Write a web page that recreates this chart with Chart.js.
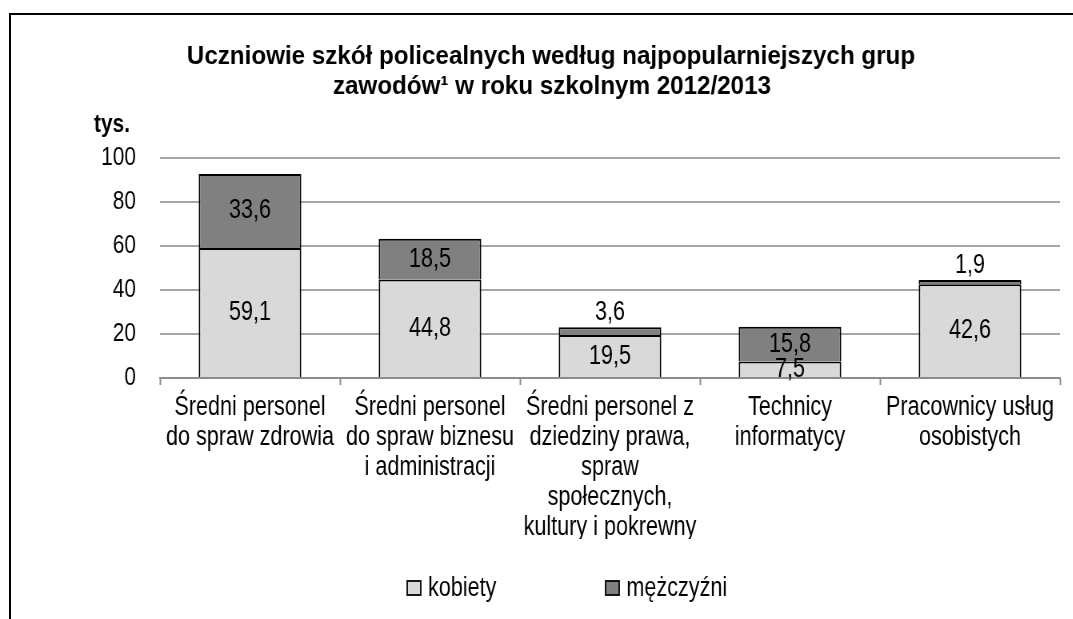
<!DOCTYPE html>
<html>
<head>
<meta charset="utf-8">
<script src="https://cdn.jsdelivr.net/npm/chart.js@4.4.1/dist/chart.umd.min.js"></script>
<style>
  html, body { margin: 0; padding: 0; background: #fff; overflow: hidden; }
  #frame { position: absolute; left: 9px; top: 13px; right: -5px; bottom: -5px; border-left: 2px solid #000; border-top: 2px solid #000; }
  #wrap { position: absolute; left: 0; top: 0; width: 1341px; height: 619px; transform: scaleX(0.8); transform-origin: 0 0; }
</style>
</head>
<body>
<div id="frame"></div>
<div id="wrap"><canvas id="chart" width="1341" height="619"></canvas></div>
<script>
// data
const categories = [
  ['Średni personel', 'do spraw zdrowia'],
  ['Średni personel', 'do spraw biznesu', 'i administracji'],
  ['Średni personel z', 'dziedziny prawa,', 'spraw', 'społecznych,', 'kultury i pokrewny'],
  ['Technicy', 'informatycy'],
  ['Pracownicy usług', 'osobistych'],
];
const kobiety = [59.1, 44.8, 19.5, 7.5, 42.6];
const mezczyzni = [33.6, 18.5, 3.6, 15.8, 1.9];
const seriesNames = ['kobiety', 'mężczyźni'];
const yTicks = [0, 20, 40, 60, 80, 100];
const titleLines = ['Uczniowie szkół policealnych według najpopularniejszych grup', 'zawodów¹ w roku szkolnym 2012/2013'];
const unitLabel = 'tys.';

const FONT = '"Liberation Sans", Arial, sans-serif';
const SQUEEZE = 0.8; // regular text in the picture is a narrow face
const TITLE_SQUEEZE = 0.93;
const colors = ['#d9d9d9', '#808080'];

const fmt = (v) => v.toFixed(1).replace('.', ',');

// value labels on the stacked segments
const valueLabels = {
  id: 'valueLabels',
  afterDatasetsDraw(chart) {
    const { ctx } = chart;
    ctx.save();
    ctx.font = `27px ${FONT}`;
    ctx.fillStyle = '#000';
    ctx.textAlign = 'center';
    ctx.textBaseline = 'middle';
    chart.data.datasets.forEach((ds, di) => {
      chart.getDatasetMeta(di).data.forEach((bar, i) => {
        const { x, y, base } = bar.getProps(['x', 'y', 'base'], true);
        let ty = (y + base) / 2;
        // thin top segments get their label above the bar
        if (di === 1 && ds.data[i] < 5) ty = y - 15;
        ctx.fillText(fmt(ds.data[i]), x, ty);
      });
    });
    ctx.restore();
  },
};

// title, unit and legend
const decorations = {
  id: 'decorations',
  afterDraw(chart) {
    const { ctx, chartArea } = chart;
    ctx.save();
    // title is a wider bold face, so undo most of the squeeze for it
    const f = TITLE_SQUEEZE / SQUEEZE;
    ctx.setTransform(f, 0, 0, 1, 0, 0);
    ctx.font = `bold 26px ${FONT}`;
    ctx.fillStyle = '#000';
    ctx.textAlign = 'center';
    ctx.textBaseline = 'alphabetic';
    ctx.fillText(titleLines[0], 551 / TITLE_SQUEEZE, 64);
    ctx.fillText(titleLines[1], 552 / TITLE_SQUEEZE, 94);
    ctx.restore();

    ctx.save();
    ctx.font = `bold 26px ${FONT}`;
    ctx.fillStyle = '#000';
    ctx.textAlign = 'center';
    ctx.textBaseline = 'alphabetic';
    ctx.fillText(unitLabel, chartArea.left - 60, 132);

    // legend
    const legendX = [509, 757];
    const ly = 588;
    ctx.font = `27px ${FONT}`;
    ctx.textAlign = 'left';
    ctx.textBaseline = 'middle';
    chart.data.datasets.forEach((ds, di) => {
      ctx.fillStyle = ds.backgroundColor;
      ctx.fillRect(legendX[di], ly - 7, 17, 14);
      ctx.strokeStyle = '#000';
      ctx.lineWidth = 1.8;
      ctx.strokeRect(legendX[di], ly - 7, 17, 14);
      ctx.fillStyle = '#000';
      ctx.fillText(ds.label, legendX[di] + 26, ly + 1);
    });
    ctx.restore();
  },
};

new Chart(document.getElementById('chart'), {
  type: 'bar',
  data: {
    labels: categories,
    datasets: [
      {
        label: seriesNames[0],
        data: kobiety,
        backgroundColor: colors[0],
        borderColor: '#000',
        borderWidth: 2,
        borderSkipped: 'start',
      },
      {
        label: seriesNames[1],
        data: mezczyzni,
        backgroundColor: colors[1],
        borderColor: '#000',
        borderWidth: 2,
        borderSkipped: 'start',
      },
    ],
  },
  options: {
    responsive: false,
    animation: false,
    events: [],
    layout: { padding: { top: 158, right: 16, bottom: 80, left: 0 } },
    datasets: { bar: { barPercentage: 0.57, categoryPercentage: 1 } },
    plugins: {
      legend: { display: false },
      title: { display: false },
      tooltip: { enabled: false },
    },
    scales: {
      x: {
        stacked: true,
        grid: {
          drawOnChartArea: false,
          drawTicks: true,
          tickLength: 7,
          tickWidth: 2,
          color: '#8c8c8c',
          offset: true,
        },
        border: { display: true, color: '#8c8c8c', width: 2 },
        ticks: {
          color: '#000',
          font: { family: FONT, size: 27, lineHeight: 1.11 },
          padding: 8,
          maxRotation: 0,
          autoSkip: false,
        },
        afterFit(scale) { scale.height = 619 - 80 - 378; },
      },
      y: {
        stacked: true,
        min: 0,
        max: 100,
        afterBuildTicks(scale) { scale.ticks = yTicks.map((v) => ({ value: v })); },
        ticks: {
          color: '#000',
          font: { family: FONT, size: 26 },
          padding: 30,
        },
        grid: { color: '#a6a6a6', lineWidth: 2, drawTicks: false },
        border: { display: false },
        afterFit(scale) { scale.width = 200; },
      },
    },
  },
  plugins: [valueLabels, decorations],
});
</script>
</body>
</html>
